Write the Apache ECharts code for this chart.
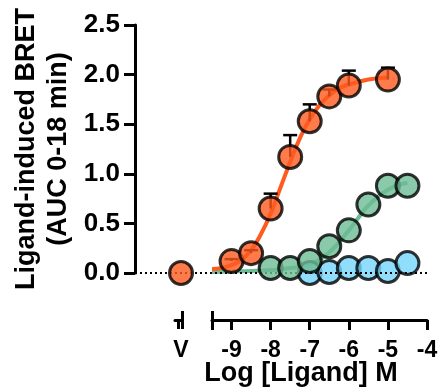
<!DOCTYPE html>
<html>
<head>
<meta charset="utf-8">
<script src="https://cdn.jsdelivr.net/npm/echarts@6.0.0/dist/echarts.min.js"></script>
<style>
  html, body { margin: 0; padding: 0; background: #fff; }
  #chart { width: 440px; height: 392px; }
</style>
</head>
<body>
<div id="chart"></div>
<script>
// log [ligand] M
const orangeX = [-9, -8.5, -8, -7.5, -7, -6.5, -6, -5];
const orangeY = [0.12, 0.20, 0.65, 1.17, 1.53, 1.78, 1.89, 1.95];
const orangeErrTop = [0.14, 0.23, 0.80, 1.39, 1.70, 1.85, 2.04, 2.07];

const greenX = [-8, -7.5, -7, -6.5, -6, -5.5, -5, -4.5];
const greenY = [0.05, 0.05, 0.12, 0.27, 0.43, 0.69, 0.88, 0.88];

const blueX = [-7, -6.5, -6, -5.5, -5, -4.5];
const blueY = [0.0, 0.01, 0.05, 0.05, 0.02, 0.10];

// vehicle
const vehicleY = 0.0;

// fitted curves
const orangeCurveX = [-9.5, -9.25, -9, -8.75, -8.5, -8.25, -8, -7.75, -7.5, -7.25, -7, -6.75, -6.5, -6.25, -6, -5.5, -5];
const orangeCurveY = [0.04, 0.05, 0.08, 0.13, 0.23, 0.39, 0.60, 0.86, 1.12, 1.36, 1.55, 1.69, 1.79, 1.86, 1.90, 1.95, 1.97];
const greenCurveX = [-9.5, -9, -8.5, -8, -7.5, -7, -6.5, -6, -5.75, -5.5, -5, -4.5];
const greenCurveY = [0.01, 0.015, 0.02, 0.03, 0.05, 0.09, 0.21, 0.43, 0.56, 0.68, 0.84, 0.91];

const xTicks = [-9, -8, -7, -6, -5, -4];

const FONT = 'Liberation Sans';
const ORANGE = '#FF5A1F';
const GREEN = '#6DBB94';
const BLUE = '#74D5FB';

const pair = (xs, ys) => xs.map((x, i) => [x, ys[i]]);

const axisLine = { show: true, onZero: false, lineStyle: { color: '#000', width: 3 } };
const noSplit = { show: false };
const tickStyle = { color: '#000', width: 3 };

const chart = echarts.init(document.getElementById('chart'), null, { renderer: 'canvas' });

const pointStyle = (c) => ({ color: c, borderColor: '#000', borderWidth: 3 });
const SYM = 23;

chart.setOption({
    animation: false,
    grid: [
        { left: 135, right: 13, top: 25, height: 248, outerBoundsMode: 'none', containLabel: false },   // y axis + baseline
        { left: 175, width: 7, top: 25, height: 248, outerBoundsMode: 'none', containLabel: false },    // vehicle
        { left: 212, right: 13, top: 25, height: 248, outerBoundsMode: 'none', containLabel: false }    // dose range
    ],
    xAxis: [
        { gridIndex: 0, type: 'value', min: 0, max: 1, show: false },
        {
            gridIndex: 1, type: 'value', position: 'bottom', min: 0, max: 1, offset: 47,
            axisLine: axisLine,
            axisTick: { show: true, customValues: [0.5, 1], length: 9, lineStyle: tickStyle },
            axisLabel: {
                customValues: [0.86], formatter: () => 'V', margin: 19,
                color: '#000', fontFamily: FONT, fontWeight: 'bold', fontSize: 23
            },
            splitLine: noSplit
        },
        {
            gridIndex: 1, type: 'value', position: 'bottom', min: 0, max: 1, offset: 47,
            axisLine: { show: false, onZero: false },
            axisTick: { show: true, inside: true, customValues: [1], length: 9, lineStyle: tickStyle },
            axisLabel: { show: false },
            splitLine: noSplit
        },
        {
            gridIndex: 2, type: 'value', position: 'bottom', min: -9.5, max: -4, offset: 47,
            axisLine: axisLine,
            axisTick: { show: true, customValues: [-9.5].concat(xTicks), length: 10, lineStyle: tickStyle },
            axisLabel: {
                customValues: xTicks, margin: 19,
                color: '#000', fontFamily: FONT, fontWeight: 'bold', fontSize: 23
            },
            splitLine: noSplit,
            name: 'Log [Ligand] M',
            nameLocation: 'middle',
            nameGap: 40,
            nameMoveOverlap: false,
            nameTextStyle: {
                color: '#000', fontFamily: FONT, fontWeight: 'bold', fontSize: 27,
                padding: [0, 37, 0, 0]
            }
        },
        {
            gridIndex: 2, type: 'value', position: 'bottom', min: -9.5, max: -4, offset: 47,
            axisLine: { show: false, onZero: false },
            axisTick: { show: true, inside: true, customValues: [-9.5], length: 9, lineStyle: tickStyle },
            axisLabel: { show: false },
            splitLine: noSplit
        }
    ],
    yAxis: [
        {
            gridIndex: 0, type: 'value', min: 0, max: 2.5, interval: 0.5,
            axisLine: axisLine,
            axisTick: { show: true, length: 11, lineStyle: tickStyle },
            axisLabel: {
                margin: 15, formatter: v => v.toFixed(1),
                color: '#000', fontFamily: FONT, fontWeight: 'bold', fontSize: 26
            },
            splitLine: noSplit,
            name: 'Ligand-induced BRET\n(AUC 0-18 min)',
            nameLocation: 'middle',
            nameGap: 60,
            nameMoveOverlap: false,
            nameTextStyle: {
                color: '#000', fontFamily: FONT, fontWeight: 'bold', fontSize: 27, lineHeight: 32
            }
        },
        { gridIndex: 1, type: 'value', min: 0, max: 2.5, show: false },
        { gridIndex: 2, type: 'value', min: 0, max: 2.5, show: false }
    ],
    series: [
        {
            // dotted baseline
            type: 'line', xAxisIndex: 0, yAxisIndex: 0, data: [],
            markLine: {
                silent: true, symbol: 'none', label: { show: false },
                lineStyle: { color: '#000', width: 2, type: [2, 3] },
                data: [{ yAxis: 0 }]
            },
            z: 1
        },
        {
            name: 'green fit', type: 'line', xAxisIndex: 3, yAxisIndex: 2,
            data: pair(greenCurveX, greenCurveY), smooth: true, symbol: 'none',
            lineStyle: { color: GREEN, width: 4 }, z: 2
        },
        {
            name: 'orange fit', type: 'line', xAxisIndex: 3, yAxisIndex: 2,
            data: pair(orangeCurveX, orangeCurveY), smooth: true, symbol: 'none',
            lineStyle: { color: ORANGE, width: 4 }, z: 2
        },
        {
            name: 'orange err', type: 'custom', xAxisIndex: 3, yAxisIndex: 2,
            data: orangeX.map((x, i) => [x, orangeY[i], orangeErrTop[i]]),
            renderItem: (params, api) => {
                const p0 = api.coord([api.value(0), api.value(1)]);
                const p1 = api.coord([api.value(0), api.value(2)]);
                const st = { stroke: '#000', lineWidth: 2.5 };
                return {
                    type: 'group',
                    children: [
                        { type: 'line', shape: { x1: p0[0], y1: p0[1], x2: p1[0], y2: p1[1] }, style: st },
                        { type: 'line', shape: { x1: p1[0] - 7, y1: p1[1], x2: p1[0] + 7, y2: p1[1] }, style: st }
                    ]
                };
            },
            z: 3
        },
        {
            name: 'blue', type: 'scatter', xAxisIndex: 3, yAxisIndex: 2,
            data: pair(blueX, blueY), symbolSize: SYM, clip: false,
            itemStyle: pointStyle(BLUE), z: 4
        },
        {
            name: 'green', type: 'scatter', xAxisIndex: 3, yAxisIndex: 2,
            data: pair(greenX, greenY), symbolSize: SYM, clip: false,
            itemStyle: pointStyle(GREEN), z: 5
        },
        {
            name: 'orange', type: 'scatter', xAxisIndex: 3, yAxisIndex: 2,
            data: pair(orangeX, orangeY), symbolSize: SYM, clip: false,
            itemStyle: pointStyle(ORANGE), z: 6
        },
        {
            name: 'vehicle', type: 'scatter', xAxisIndex: 1, yAxisIndex: 1,
            data: [[0.86, vehicleY]], symbolSize: SYM, clip: false,
            itemStyle: pointStyle(ORANGE), z: 6
        }
    ]
});
</script>
</body>
</html>
